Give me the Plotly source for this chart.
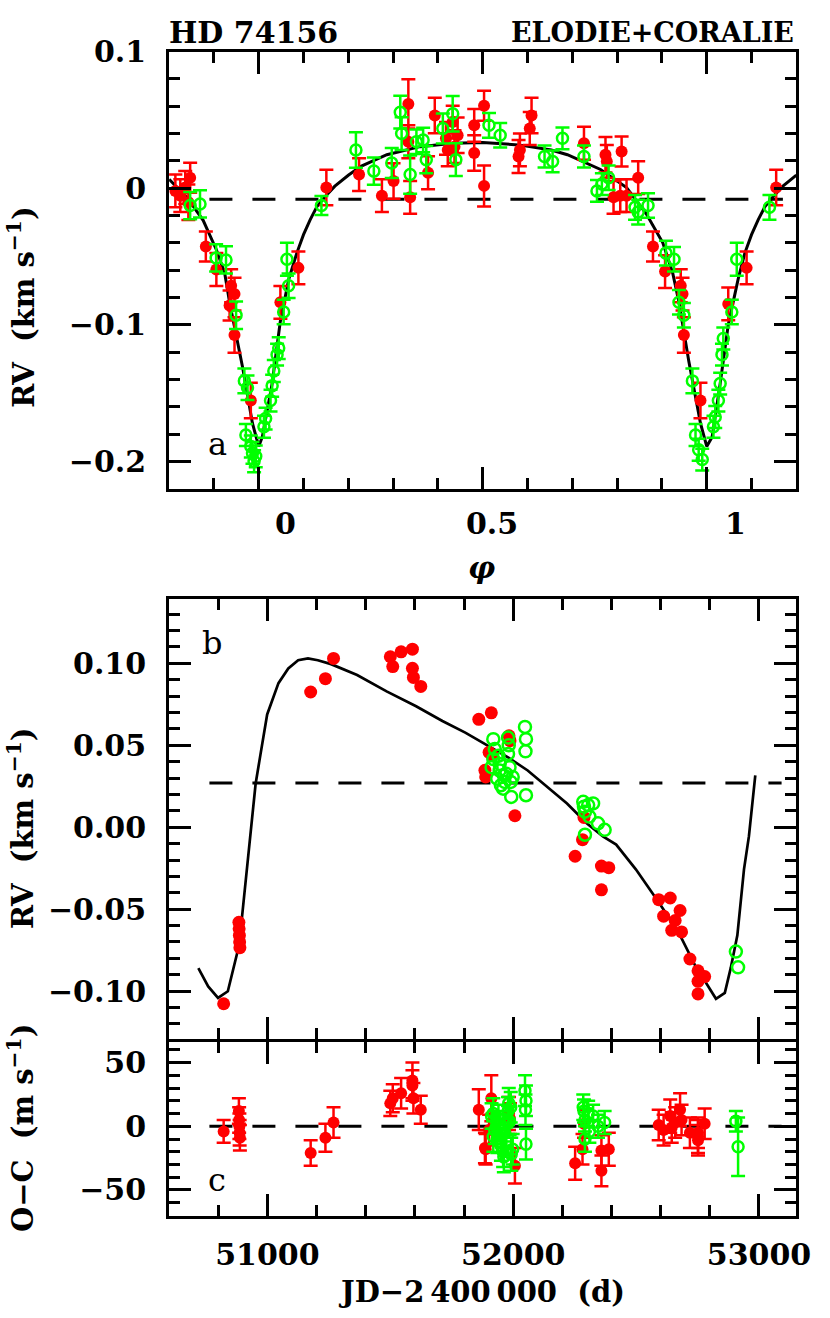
import plotly.graph_objects as go

# ---------------- panel a : phase-folded RV ----------------
ph_curve = [-0.2, -0.16, -0.124, -0.0945, -0.076, -0.065, -0.036, -0.014, 0.0, 0.008, 0.030,
            0.048, 0.067, 0.085, 0.10, 0.115, 0.13, 0.15, 0.17, 0.20, 0.228, 0.286, 0.36, 0.433,
            0.5, 0.58, 0.653, 0.689, 0.763, 0.821, 0.865, 0.902, 0.924, 0.938, 0.96, 0.986, 1.0,
            1.012, 1.03, 1.048, 1.07, 1.085, 1.10, 1.115, 1.13, 1.15, 1.17, 1.2]
rv_curve_a = [0.0065, -0.0067, -0.0235, -0.045, -0.062, -0.0835, -0.131, -0.172, -0.189, -0.182,
              -0.143, -0.098, -0.0667, -0.0475, -0.034, -0.023, -0.0135, -0.0055, 0.0015, 0.0095,
              0.016, 0.0245, 0.0304, 0.0329, 0.0335, 0.0317, 0.028, 0.0245, 0.0137, 0.0005,
              -0.0187, -0.040, -0.062, -0.0835, -0.1266, -0.172, -0.189, -0.182, -0.143, -0.100,
              -0.0667, -0.0475, -0.034, -0.023, -0.0135, -0.0055, 0.0015, 0.0095]

red_ph = [-0.186, -0.175, -0.153, -0.157, -0.164, -0.118, -0.0945, -0.0615, -0.054, -0.065,
          -0.054, -0.0176, 0.0484, 0.0886, 0.151, 0.224, 0.275, 0.301, 0.334, 0.334, 0.338,
          0.378, 0.393, 0.418, 0.422, 0.433, 0.437, 0.444, 0.481, 0.481, 0.503, 0.503, 0.58,
          0.583, 0.609, 0.605, 0.726, 0.774, 0.777, 0.81, 0.792, 0.807, 0.821, 0.847, 0.88,
          0.907, 0.942, 0.946, 0.949, 0.986, 1.048, 1.089, 1.155]
red_rv = [-0.002, -0.0055, 0.0077, -0.0103, 0.0005, -0.0427, -0.0595, -0.0714, -0.0775, -0.0858,
          -0.1074, -0.1554, -0.0835, -0.0583, 0.0005, 0.010, -0.0055, 0.0053, 0.0617, 0.034,
          -0.0067, 0.0113, 0.0532, 0.0365, 0.028, 0.0484, 0.0304, 0.0388, 0.046, 0.0257, 0.0604,
          0.0017, 0.0232, 0.028, 0.0532, 0.0437, 0.0329, 0.0245, 0.0196, 0.0268, -0.0067, -0.0055,
          -0.0055, 0.0077, -0.0427, -0.061, -0.0714, -0.0775, -0.1074, -0.1554, -0.0847, -0.0583,
          0.0005]
red_err = [0.012, 0.012, 0.011, 0.013, 0.012, 0.011, 0.012, 0.012, 0.012, 0.011,
           0.013, 0.013, 0.012, 0.012, 0.013, 0.012, 0.012, 0.013, 0.018, 0.012, 0.012,
           0.012, 0.013, 0.012, 0.012, 0.012, 0.012, 0.013, 0.012, 0.013, 0.011, 0.015, 0.012,
           0.012, 0.013, 0.012, 0.012, 0.013, 0.012, 0.011, 0.012, 0.012, 0.012, 0.012, 0.011,
           0.012, 0.012, 0.012, 0.013, 0.013, 0.012, 0.012, 0.013]

grn_ph = [-0.131, -0.153, -0.095, -0.073, -0.0505, -0.032, -0.025, -0.0286, -0.0176, -0.0139,
          -0.0103, -0.0066, 0.0117, 0.0154, 0.0264, 0.030, 0.0337, 0.041, 0.0447, 0.0557,
          0.0667, 0.063, 0.14, 0.217, 0.257, 0.297, 0.316, 0.319, 0.338, 0.352, 0.374, 0.367,
          0.411, 0.433, 0.44, 0.514, 0.539, 0.638, 0.656, 0.678, 0.726, 0.755, 0.766, 0.781,
          0.84, 0.869, 0.847, 0.909, 0.927, 0.938, 0.949, 0.968, 0.975, 0.982, 0.99, 1.015,
          1.019, 1.026, 1.03, 1.034, 1.037, 1.056, 1.067, 1.14]
grn_rv = [-0.0115, -0.0127, -0.051, -0.0525, -0.093, -0.141, -0.146, -0.1806, -0.189, -0.1937,
          -0.1998, -0.1962, -0.1746, -0.1686, -0.1554, -0.1446, -0.1338, -0.1218, -0.117, -0.0906,
          -0.0714, -0.052, -0.0127, 0.028, 0.0125, 0.0185, 0.0556, 0.040, 0.010, 0.034, 0.0209,
          0.0353, 0.0437, 0.0545, 0.0209, 0.046, 0.0388, 0.0232, 0.0196, 0.0365, 0.0232, -0.002,
          0.003, 0.0077, -0.014, -0.0127, -0.0175, -0.0475, -0.052, -0.0835, -0.093, -0.141,
          -0.1806, -0.1914, -0.1986, -0.1746, -0.1674, -0.1554, -0.143, -0.1218, -0.110, -0.0906,
          -0.052, -0.014]
grn_err = [0.010, 0.010, 0.010, 0.010, 0.010, 0.009, 0.009, 0.008, 0.008, 0.008,
           0.008, 0.008, 0.008, 0.008, 0.008, 0.008, 0.008, 0.008, 0.008, 0.009,
           0.009, 0.012, 0.007, 0.013, 0.010, 0.011, 0.012, 0.012, 0.014, 0.009, 0.010, 0.009,
           0.011, 0.013, 0.012, 0.009, 0.009, 0.008, 0.008, 0.008, 0.008, 0.008, 0.008, 0.009,
           0.009, 0.009, 0.009, 0.009, 0.009, 0.009, 0.009, 0.009, 0.008, 0.008, 0.008, 0.008,
           0.008, 0.008, 0.008, 0.008, 0.008, 0.009, 0.012, 0.009]
gamma_a = -0.008

# ---------------- panel b : RV vs time (outer planet) ----------------
jd_curve = [50719, 50759, 50799, 50839, 50885, 50925, 50952, 50972, 50999, 51045, 51085, 51125,
            51165, 51205, 51259, 51365, 51485, 51605, 51712, 51805, 51885, 51979, 52059, 52139,
            52219, 52299, 52365, 52419, 52499, 52592, 52672, 52739, 52779, 52825, 52861, 52885,
            52912, 52939, 52959, 52985]
rv_curve_b = [-0.086, -0.0971, -0.1041, -0.1001, -0.0719, -0.0116, 0.0265, 0.0446, 0.0688, 0.0879,
              0.0969, 0.1019, 0.103, 0.1019, 0.0995, 0.0929, 0.0829, 0.0738, 0.0648, 0.0577,
              0.0507, 0.0426, 0.0346, 0.0245, 0.0145, 0.0024, -0.0056, -0.0106, -0.0257, -0.0458,
              -0.0639, -0.084, -0.094, -0.1047, -0.1011, -0.086, -0.066, -0.0257, -0.0056, 0.0316]

red_jd = [50822, 50884, 50885, 50886, 50887, 50888, 51176, 51236, 51269, 51500, 51510, 51544,
          51590, 51590, 51594, 51624, 51860, 51911, 51885, 51888, 51902, 51916, 51983, 51987,
          52007, 52252, 52282, 52288, 52359, 52359, 52389, 52592, 52612, 52639, 52659, 52679,
          52645, 52685, 52719, 52752, 52779, 52752, 52752]
red_rvb = [-0.1077, -0.058, -0.062, -0.066, -0.070, -0.0735, 0.0825, 0.0906, 0.103, 0.104, 0.098,
           0.107, 0.1086, 0.097, 0.0914, 0.0859, 0.0658, 0.0698, 0.0347, 0.0307, 0.0457, 0.0437,
           0.0558, 0.0528, 0.007, -0.0177, -0.0076, 0.006, -0.0237, -0.0382, -0.0247, -0.0442,
           -0.0543, -0.0432, -0.0569, -0.0508, -0.0629, -0.0639, -0.0804, -0.0876, -0.0911,
           -0.094, -0.1017]

grn_jd = [51919, 51979, 52048, 52052, 52050, 51925, 51919, 51912, 51945, 51972, 51998, 51965,
          51990, 51959, 51992, 52052, 51979, 51982, 51945, 51935, 51950, 51985, 51962, 51940,
          52285, 52305, 52325, 52292, 52310, 52345, 52372, 52292, 52288, 52906, 52915]
grn_rvb = [0.0537, 0.0547, 0.0612, 0.0537, 0.0463, 0.0477, 0.0416, 0.0366, 0.0346, 0.0326, 0.0306,
           0.0276, 0.0276, 0.0235, 0.0185, 0.0195, 0.0447, 0.050, 0.0386, 0.0296, 0.0256, 0.0366,
           0.0316, 0.0436, 0.0155, 0.0135, 0.0145, 0.0095, 0.0065, 0.0024, -0.0016, -0.0046,
           0.0125, -0.0759, -0.0855]
gamma_b = 0.027

# ---------------- panel c : residuals (m/s) ----------------
red_oc = [-4, 12, 5, 0, -5, -9, -21, -9, 3, 18, 22, 26, 36, 32, 22, 13, 13, 22, -17, -18, -3, -2,
          10, 6, -31, -29, -18, 2, -19, -35, -18, 1, -3, 8, 3, 13, -1, 5, -5, -5, 2, -11, -8]
red_oc_err = [9, 10, 10, 10, 10, 10, 10, 11, 12, 10, 11, 12, 14, 12, 12, 11, 16, 18, 12, 12, 12, 12,
              13, 12, 14, 13, 12, 11, 12, 12, 13, 12, 12, 13, 12, 13, 12, 12, 12, 12, 12, 12, 13]
grn_oc = [10, 5, 28, 20, 13, -3, -8, 8, 2, -12, -18, -5, 15, -20, -22, -14, 12, 18, 0, -10, -15,
          4, -24, 6, 15, 10, 8, 5, -4, 0, 3, -10, 12, 4, -16]
grn_oc_err = [12, 11, 12, 12, 12, 11, 12, 10, 10, 11, 12, 11, 12, 12, 13, 12, 11, 12, 10, 11, 12,
              11, 12, 11, 10, 10, 9, 9, 9, 9, 9, 10, 9, 8, 23]

RED = "#ff0000"
GRN = "#00ff00"
SERIF = "DejaVu Serif"
W, H = 830, 1318


def pxx(p):
    return p / W


def pxy(p):
    return 1 - p / H


fig = go.Figure()

# panel a
fig.add_trace(go.Scatter(x=ph_curve, y=rv_curve_a, mode="lines", line=dict(color="black", width=3),
                         xaxis="x", yaxis="y", showlegend=False))
fig.add_trace(go.Scatter(x=red_ph, y=red_rv, mode="markers", xaxis="x", yaxis="y",
                         marker=dict(color=RED, size=12, symbol="circle"),
                         error_y=dict(type="data", array=red_err, color=RED, thickness=2.5, width=7),
                         showlegend=False))
fig.add_trace(go.Scatter(x=grn_ph, y=grn_rv, mode="markers", xaxis="x", yaxis="y",
                         marker=dict(color=GRN, size=11, symbol="circle-open", line=dict(width=2.5, color=GRN)),
                         error_y=dict(type="data", array=grn_err, color=GRN, thickness=2.5, width=7),
                         showlegend=False))

# panel b
fig.add_trace(go.Scatter(x=jd_curve, y=rv_curve_b, mode="lines", line=dict(color="black", width=2.7),
                         xaxis="x2", yaxis="y2", showlegend=False))
fig.add_trace(go.Scatter(x=red_jd, y=red_rvb, mode="markers", xaxis="x2", yaxis="y2",
                         marker=dict(color=RED, size=13, symbol="circle"), showlegend=False))
fig.add_trace(go.Scatter(x=grn_jd, y=grn_rvb, mode="markers", xaxis="x2", yaxis="y2",
                         marker=dict(color=GRN, size=12, symbol="circle-open", line=dict(width=2.5, color=GRN)),
                         showlegend=False))

# panel c
fig.add_trace(go.Scatter(x=red_jd, y=red_oc, mode="markers", xaxis="x3", yaxis="y3",
                         marker=dict(color=RED, size=12, symbol="circle"),
                         error_y=dict(type="data", array=red_oc_err, color=RED, thickness=2.5, width=7),
                         showlegend=False))
fig.add_trace(go.Scatter(x=grn_jd, y=grn_oc, mode="markers", xaxis="x3", yaxis="y3",
                         marker=dict(color=GRN, size=11, symbol="circle-open", line=dict(width=2.5, color=GRN)),
                         error_y=dict(type="data", array=grn_oc_err, color=GRN, thickness=2.5, width=7),
                         showlegend=False))

tickfont = dict(family=SERIF, size=30, color="black", weight="bold")
minor_common = dict(ticks="inside", ticklen=11, tickwidth=3, tickcolor="black", showgrid=False)
common = dict(showline=True, linewidth=3, linecolor="black", mirror="allticks", ticks="inside",
              tickwidth=3, tickcolor="black", showgrid=False, zeroline=False, tickfont=tickfont,
              ticklen=22, tickmode="linear")
xdom = [pxx(172), pxx(810)]

fig.update_layout(
    width=W, height=H, margin=dict(l=0, r=0, t=0, b=0),
    paper_bgcolor="white", plot_bgcolor="white",
    xaxis=dict(common, domain=xdom, anchor="y", range=[-0.2, 1.2], tick0=0, dtick=0.5,
               showticklabels=False, minor=dict(minor_common, dtick=0.1)),
    yaxis=dict(common, domain=[pxy(478), pxy(35)], anchor="x", range=[-0.22, 0.1], tick0=0, dtick=0.1,
               ticklabelstandoff=14, minor=dict(minor_common, dtick=0.02)),
    xaxis2=dict(common, domain=xdom, anchor="y2", range=[50600, 53152], tick0=0, dtick=1000,
                showticklabels=False, minor=dict(minor_common, dtick=200)),
    yaxis2=dict(common, domain=[pxy(1035), pxy(590)], anchor="x2", range=[-0.129, 0.139], tick0=0,
                dtick=0.05, tickformat=".2f", ticklabelstandoff=14, minor=dict(minor_common, dtick=0.01)),
    xaxis3=dict(common, domain=xdom, anchor="y3", range=[50600, 53152], tick0=0, dtick=1000,
                tickformat="d", ticklabelstandoff=10, minor=dict(minor_common, dtick=200)),
    yaxis3=dict(common, domain=[pxy(1215), pxy(1038)], anchor="x3", range=[-70.7, 66.5], tick0=0,
                dtick=50, ticklabelstandoff=14, minor=dict(minor_common, dtick=10)),
)

dash = "23px,20px"
fig.add_shape(type="line", xref="x", yref="y", x0=-0.11, x1=1.17, y0=gamma_a, y1=gamma_a,
              line=dict(color="black", width=3, dash=dash), layer="below")
fig.add_shape(type="line", xref="x2", yref="y2", x0=50764, x1=53092, y0=gamma_b, y1=gamma_b,
              line=dict(color="black", width=3, dash=dash), layer="below")
fig.add_shape(type="line", xref="x3", yref="y3", x0=50764, x1=53092, y0=0, y1=0,
              line=dict(color="black", width=3, dash=dash), layer="below")

ann = []
ann.append(dict(text="HD 74156", x=pxx(170), y=pxy(16), xanchor="left", yanchor="middle",
                font=dict(family=SERIF, size=30, color="black", weight="bold")))
ann.append(dict(text="ELODIE+CORALIE", x=pxx(810), y=pxy(16), xanchor="right", yanchor="middle",
                font=dict(family=SERIF, size=27, color="black", weight="bold")))
for t, xv in [("0", 0.06), ("0.5", 0.52), ("1", 1.064)]:
    ann.append(dict(text=t, x=xv, xref="x", y=pxy(513), yref="paper", xanchor="center", yanchor="middle",
                    font=tickfont))
ann.append(dict(text="<i>φ</i>", x=pxx(490), y=pxy(558), xanchor="center", yanchor="middle",
                font=dict(family=SERIF, size=30, color="black", weight="bold")))
ylab = dict(family=SERIF, size=29, color="black", weight="bold")
ann.append(dict(text="RV  (km s<sup>−1</sup>)", x=pxx(22), y=pxy(294), textangle=-90,
                xanchor="center", yanchor="middle", font=ylab))
ann.append(dict(text="RV  (km s<sup>−1</sup>)", x=pxx(22), y=pxy(822), textangle=-90,
                xanchor="center", yanchor="middle", font=ylab))
ann.append(dict(text="O−C  (m s<sup>−1</sup>)", x=pxx(22), y=pxy(1125), textangle=-90,
                xanchor="center", yanchor="middle", font=ylab))
ann.append(dict(text="JD−2\u2009400\u2009000  (d)", x=pxx(490), y=pxy(1292), xanchor="center",
                yanchor="middle", font=dict(family=SERIF, size=29, color="black", weight="bold")))
lab = dict(family=SERIF, size=32, color="black")
ann.append(dict(text="a", x=pxx(221), y=pxy(433), xanchor="center", yanchor="middle", font=lab))
ann.append(dict(text="b", x=pxx(216), y=pxy(634), xanchor="center", yanchor="middle", font=lab))
ann.append(dict(text="c", x=pxx(221), y=pxy(1178), xanchor="center", yanchor="middle", font=lab))
for a in ann:
    a.setdefault("xref", "paper")
    a.setdefault("yref", "paper")
    a["showarrow"] = False
fig.update_layout(annotations=ann)

fig.write_html("out.html", config={"displayModeBar": False},
               post_script="document.body.style.margin='0';document.body.style.overflow='hidden';")
